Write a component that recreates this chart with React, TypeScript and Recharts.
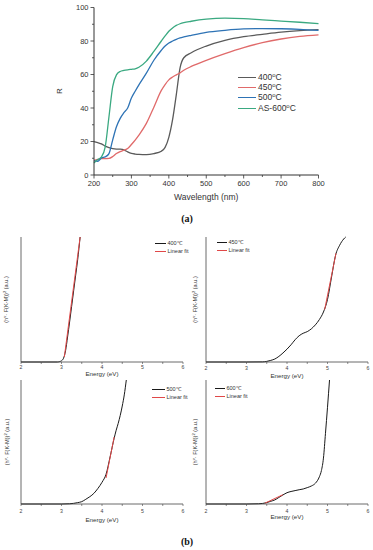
import React from "react";
import { Legend, Line, LineChart, XAxis, YAxis } from "recharts";

const FONT = "'Liberation Sans', Arial, sans-serif";
const AXIS = "#333";

// (a) diffuse reflectance, R (%) vs wavelength (nm)
const wavelength = [200, 210, 220, 230, 240, 250, 260, 270, 280, 290, 300, 310, 320, 340, 360, 380, 390, 400, 410, 420, 430, 440, 460, 500, 550, 600, 650, 700, 750, 800];
const r400 = [20, 19.3, 18.6, 17.2, 16.3, 15.8, 15.5, 15.4, 15, 13.8, 12.9, 12.5, 12.3, 12.2, 12.8, 14.2, 16.5, 22.5, 33, 48, 64, 70, 73, 77, 80.4, 82.6, 84, 85.3, 86.2, 86.8];
const r450 = [8.8, 9.3, 9.8, 9.8, 9.9, 11, 12.8, 14, 14.8, 15.8, 18.2, 20.8, 23.8, 30.8, 40.5, 50.5, 54, 56.8, 58.5, 59.8, 61, 62.5, 64.8, 68.4, 72.4, 76, 79, 81.2, 82.7, 83.6];
const r500 = [8.4, 8.2, 10.2, 10.8, 12.8, 21, 28.8, 33.8, 37.2, 40, 46, 50, 53.8, 60.8, 68.5, 74.5, 77, 78.8, 80, 81, 81.8, 82.4, 83.4, 85.2, 86.4, 87.2, 87.4, 87.3, 87, 86.4];
const r600 = [7.2, 9.2, 10.8, 16.8, 34.8, 52.8, 59.8, 61.8, 62.4, 62.8, 63.1, 63.4, 64.3, 68, 73.8, 80, 83, 85.8, 87.8, 89.3, 90.3, 91, 91.8, 93, 93.6, 93.4, 92.6, 91.9, 91.2, 90.4];
const reflXTicks = [200, 250, 300, 350, 400, 450, 500, 550, 600, 650, 700, 750, 800];
const reflYTicks = [0, 10, 20, 30, 40, 50, 60, 70, 80, 90, 100];

// (b) Kubelka-Munk plots, arbitrary units vs energy (eV)
const energyTicks = [2, 2.5, 3, 3.5, 4, 4.5, 5, 5.5, 6];
const e400 = [2, 2.5, 2.9, 2.95, 3.0, 3.05, 3.1, 3.15, 3.2, 3.25, 3.3, 3.35, 3.4, 3.46];
const k400 = [0, 0, 0, 0.3, 1, 3, 9, 20, 32, 44.5, 57, 69.5, 82, 100];
const fit400E = [3.07, 3.46];
const fit400K = [4, 100];
const e450 = [2, 3, 3.4, 3.5, 3.6, 3.7, 3.8, 3.9, 4.0, 4.1, 4.2, 4.3, 4.4, 4.5, 4.6, 4.7, 4.8, 4.9, 5.0, 5.1, 5.2, 5.3, 5.4, 5.45];
const k450 = [0, 0, 0.1, 0.5, 1.3, 2.4, 4.5, 7.2, 10.3, 13.8, 17.8, 21, 23, 24.3, 26.5, 29.7, 34, 40, 50, 68, 85.5, 93.4, 98.4, 100];
const fit450E = [4.93, 5.21];
const fit450K = [42, 87];
const e500 = [2, 3, 3.2, 3.4, 3.5, 3.6, 3.7, 3.8, 3.9, 4.0, 4.1, 4.2, 4.3, 4.35, 4.4, 4.5, 4.55, 4.6];
const k500 = [0, 0, 0.2, 1.1, 1.9, 3.8, 5.9, 8.6, 12.6, 17.5, 24, 38, 53, 59.5, 65, 79, 88, 100];
const fit500E = [4.1, 4.3];
const fit500K = [21, 54];
const e600 = [2, 3, 3.3, 3.5, 3.6, 3.7, 3.8, 3.9, 4.0, 4.1, 4.2, 4.3, 4.4, 4.5, 4.6, 4.7, 4.8, 4.85, 4.9, 4.95, 5.0, 5.05];
const k600 = [0, 0, 0.2, 1.1, 2.2, 3.3, 5.3, 7.3, 9.1, 10.1, 10.8, 11.5, 12.1, 13.2, 14.5, 16.7, 22, 27, 37, 57, 78, 100];
const fit600E = [3.45, 3.9];
const fit600K = [0.6, 7.5];

const toPts = (xs: number[], ys: number[]) => xs.map((x, i) => ({ x, y: ys[i] }));

const reflXTick = (p: any) => {
  const v = p.payload.value;
  const major = v % 100 === 0;
  return (
    <g>
      <line x1={p.x} x2={p.x} y1={p.y} y2={p.y + (major ? 3.5 : 2)} stroke={AXIS} strokeWidth={0.8} />
      {major && (
        <text x={p.x} y={p.y + 10.5} textAnchor="middle" fontSize={7.5} fill={AXIS} fontFamily={FONT}>
          {v}
        </text>
      )}
    </g>
  );
};

const reflYTick = (p: any) => {
  const v = p.payload.value;
  const major = v % 20 === 0;
  return (
    <g>
      <line x1={p.x} x2={p.x - (major ? 3.5 : 2)} y1={p.y} y2={p.y} stroke={AXIS} strokeWidth={0.8} />
      {major && (
        <text x={p.x - 5.5} y={p.y + 2.7} textAnchor="end" fontSize={7.5} fill={AXIS} fontFamily={FONT}>
          {v}
        </text>
      )}
    </g>
  );
};

const reflLegend = (props: any) => (
  <div style={{ fontFamily: FONT, fontSize: 8.5, color: "#333", whiteSpace: "nowrap" }}>
    {props.payload.map((p: any) => {
      const [pre, num] = p.value.startsWith("AS") ? ["AS-", p.value.slice(3)] : ["", p.value];
      return (
        <div key={p.value} style={{ display: "flex", alignItems: "center", height: 10.3 }}>
          <span style={{ width: 18, borderTop: `1px solid ${p.color}`, marginRight: 2 }} />
          <span style={{ lineHeight: "10px" }}>
            {pre}
            {num}
            <span style={{ fontSize: 6, position: "relative", top: -3 }}>o</span>C
          </span>
        </div>
      );
    })}
  </div>
);

function ReflectanceChart() {
  const series = [
    { name: "400", data: toPts(wavelength, r400), color: "#5a5a5a" },
    { name: "450", data: toPts(wavelength, r450), color: "#e06a6a" },
    { name: "500", data: toPts(wavelength, r500), color: "#2e73b5" },
    { name: "AS-600", data: toPts(wavelength, r600), color: "#3aa981" },
  ];
  return (
    <LineChart width={373} height={210} margin={{ top: 7.5, right: 54.5, bottom: 0, left: 0 }}>
      <XAxis
        xAxisId="b"
        dataKey="x"
        type="number"
        domain={[200, 800]}
        ticks={reflXTicks}
        interval={0}
        tickSize={0}
        tickMargin={0}
        tickLine={false}
        height={35}
        stroke={AXIS}
        tick={reflXTick}
        label={{
          content: (p: any) => (
            <text x={p.viewBox.x + p.viewBox.width / 2} y={p.viewBox.y + 25} textAnchor="middle" fontSize={8.5} fill={AXIS} fontFamily={FONT}>
              Wavelength (nm)
            </text>
          ),
        }}
      />
      <XAxis xAxisId="t" orientation="top" type="number" domain={[200, 800]} height={0} tick={false} tickLine={false} stroke={AXIS} />
      <YAxis
        yAxisId="l"
        type="number"
        domain={[0, 100]}
        ticks={reflYTicks}
        interval={0}
        tickSize={0}
        tickMargin={0}
        tickLine={false}
        width={94}
        stroke={AXIS}
        tick={reflYTick}
        label={{
          content: () => (
            <text x={59} y={91} textAnchor="middle" fontSize={8} fill={AXIS} fontFamily={FONT} transform={`rotate(-90 59 91)`} dy={3}>
              R
            </text>
          ),
        }}
      />
      <YAxis yAxisId="r" orientation="right" type="number" domain={[0, 100]} width={0} tick={false} tickLine={false} stroke={AXIS} />
      {series.map((s) => (
        <Line
          key={s.name}
          xAxisId="b"
          yAxisId="l"
          data={s.data}
          dataKey="y"
          name={s.name}
          type="monotone"
          stroke={s.color}
          strokeWidth={1.3}
          dot={false}
          isAnimationActive={false}
        />
      ))}
      <Legend
        layout="vertical"
        align="center"
        verticalAlign="middle"
        content={reflLegend}
        wrapperStyle={{ left: 238, top: 72, width: "auto", height: "auto" }}
      />
    </LineChart>
  );
}

const energyTick = (gap: number) => (p: any) => {
  const v = p.payload.value;
  const major = Number.isInteger(v);
  return (
    <g>
      <line x1={p.x} x2={p.x} y1={p.y} y2={p.y + 2} stroke="#444" strokeWidth={0.6} />
      {major && (
        <text x={p.x} y={p.y + gap + 2} textAnchor="middle" fontSize={5.2} fill="#444" fontFamily={FONT}>
          {v}
        </text>
      )}
    </g>
  );
};

const kmLegend = (lineW: number) => (props: any) => (
  <div style={{ fontFamily: FONT, fontSize: 5.5, color: "#333", whiteSpace: "nowrap" }}>
    {props.payload.map((p: any) => (
      <div key={p.value} style={{ display: "flex", alignItems: "center", height: 7.5 }}>
        <span style={{ width: lineW, borderTop: `1px solid ${p.color}`, marginRight: 1.5, flexShrink: 0 }} />
        <span style={{ lineHeight: "7px" }}>{p.value}</span>
      </div>
    ))}
  </div>
);

type PanelProps = {
  left: number;
  top: number;
  plotH: number;
  name: string;
  e: number[];
  k: number[];
  fitE: number[];
  fitK: number[];
  tickGap: number;
  titleGap: number;
  yLabGap: number;
  legendX: number;
  legendY: number;
  legendW: number;
};

function KmPanel(p: PanelProps) {
  return (
    <div style={{ position: "absolute", left: p.left, top: p.top }}>
      <LineChart width={185} height={7 + p.plotH + 26} margin={{ top: 7, right: 2, bottom: 0, left: 0 }}>
        <XAxis
          dataKey="x"
          type="number"
          domain={[2, 6]}
          ticks={energyTicks}
          interval={0}
          tickSize={0}
          tickMargin={0}
          tickLine={false}
          height={26}
          stroke="#444"
          strokeWidth={0.8}
          tick={energyTick(p.tickGap)}
          label={{
            content: (l: any) => (
              <text x={l.viewBox.x + l.viewBox.width / 2} y={l.viewBox.y + p.titleGap + 2} textAnchor="middle" fontSize={6.2} fill="#333" fontFamily={FONT}>
                Energy (eV)
              </text>
            ),
          }}
        />
        <YAxis
          type="number"
          domain={[0, 100]}
          width={21}
          tick={false}
          tickLine={false}
          stroke="#444"
          strokeWidth={0.8}
          label={{
            content: (l: any) => {
              const cx = 21 - p.yLabGap;
              const cy = l.viewBox.y + l.viewBox.height / 2;
              return (
                <text x={cx} y={cy} dy={2} textAnchor="middle" fontSize={5.6} fill="#333" fontFamily={FONT} transform={`rotate(-90 ${cx} ${cy})`}>
                  (h
                  <tspan dy={-2} fontSize={4}>v</tspan>
                  <tspan dy={2}>· F(K-M))</tspan>
                  <tspan dy={-2} fontSize={4}>2</tspan>
                  <tspan dy={2}>{"  (a.u.)"}</tspan>
                </text>
              );
            },
          }}
        />
        <Line data={toPts(p.e, p.k)} dataKey="y" name={p.name} type="monotone" stroke="#1a1a1a" strokeWidth={1} dot={false} isAnimationActive={false} />
        <Line data={toPts(p.fitE, p.fitK)} dataKey="y" name="Linear fit" type="linear" stroke="#e04848" strokeWidth={1} dot={false} isAnimationActive={false} />
        <Legend
          layout="vertical"
          align="center"
          verticalAlign="middle"
          content={kmLegend(p.legendW)}
          wrapperStyle={{ left: p.legendX, top: p.legendY, width: "auto", height: "auto" }}
        />
      </LineChart>
    </div>
  );
}

const capStyle: React.CSSProperties = {
  position: "absolute",
  width: 60,
  textAlign: "center",
  fontFamily: "'Liberation Serif', 'Times New Roman', serif",
  fontWeight: "bold",
  fontSize: 10,
  lineHeight: "12px",
  color: "#111",
};

export default function App() {
  return (
    <div style={{ position: "fixed", left: 0, top: 0, width: 373, height: 550, background: "#fff", overflow: "hidden" }}>
      <div style={{ position: "absolute", left: 0, top: 0 }}>
        <ReflectanceChart />
      </div>
      <div style={{ ...capStyle, left: 157, top: 213 }}>(a)</div>
      <KmPanel left={0} top={230} plotH={125} name="400℃" e={e400} k={k400} fitE={fit400E} fitK={fit400K} tickGap={5} titleGap={12} yLabGap={15} legendX={155} legendY={10} legendW={11} />
      <KmPanel left={185} top={230} plotH={125} name="450℃" e={e450} k={k450} fitE={fit450E} fitK={fit450K} tickGap={6} titleGap={14} yLabGap={11} legendX={32} legendY={9} legendW={10} />
      <KmPanel left={0} top={373} plotH={124} name="500℃" e={e500} k={k500} fitE={fit500E} fitK={fit500K} tickGap={7} titleGap={16} yLabGap={14} legendX={152} legendY={13} legendW={13} />
      <KmPanel left={185} top={373} plotH={124} name="600℃" e={e600} k={k600} fitE={fit600E} fitK={fit600K} tickGap={7} titleGap={13} yLabGap={11} legendX={30} legendY={12} legendW={10} />
      <div style={{ ...capStyle, left: 157, top: 536 }}>(b)</div>
    </div>
  );
}
